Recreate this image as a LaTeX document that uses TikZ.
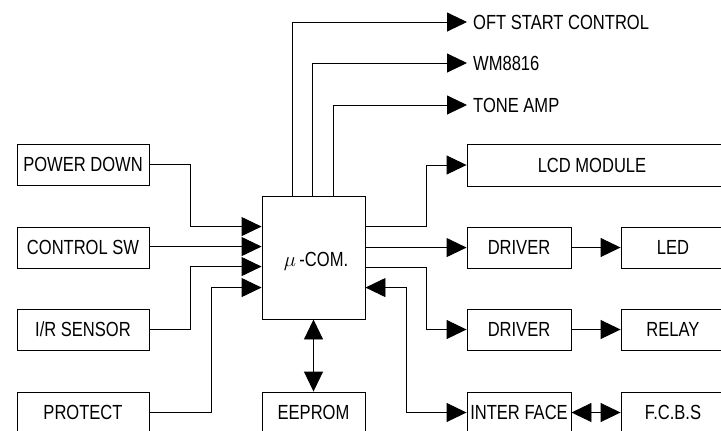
\documentclass[tikz,border=0pt]{standalone}
\usepackage{fontspec}
\setmainfont{Liberation Sans}[FakeStretch=0.81]
\usetikzlibrary{arrows.meta,calc}
\tikzset{
  box/.style={draw, line width=0.9bp, inner sep=0pt, minimum height=41bp},
  lbl/.style={inner sep=0pt, inner xsep=6bp, anchor=west},
  wire/.style={line width=0.9bp},
  arr/.style={wire, -{Triangle[length=20bp,width=19bp]}},
  arrtwo/.style={wire, {Triangle[length=20bp,width=19bp]}-{Triangle[length=20bp,width=19bp]}},
}
\begin{document}
\begin{tikzpicture}[x=1bp,y=-1bp,font=\fontsize{20.5}{23}\selectfont]
\useasboundingbox (0,0) rectangle (721,430);
\clip (0,0) rectangle (721,430);
% left boxes
\node[box, minimum width=132bp] (pd) at (83,164.5) {POWER DOWN};
\node[box, minimum width=132bp] (csw) at (83,247.5) {CONTROL SW};
\node[box, minimum width=132bp] (ir) at (83,329.5) {I/R SENSOR};
\node[box, minimum width=132bp] (prot) at (83,412.5) {PROTECT};
% centre
\node[box, minimum width=103bp, minimum height=123bp] (mcom) at (313.5,257.5) {};
\node (mcomtxt) at (316,261) {$\mu$\,-COM.};
\node[box, minimum width=103bp] (eeprom) at (313.5,412.5) {EEPROM};
% right boxes
\node[box, minimum width=258bp, minimum height=42bp] (lcd) at (596,165) {};
\node (lcdtxt) at (592,165.5) {LCD MODULE};
\node[box, minimum width=104bp] (drv1) at (519,247.5) {DRIVER};
\node[box, minimum width=104bp] (led) at (673,247.5) {LED};
\node[box, minimum width=104bp] (drv2) at (519,329.5) {DRIVER};
\node[box, minimum width=104bp] (relay) at (673,329.5) {RELAY};
\node[box, minimum width=104bp] (iface) at (519,412.5) {INTER FACE};
\node[box, minimum width=104bp] (fcbs) at (673,412.5) {F.C.B.S};
% top labels
\node[lbl] (oft) at (467,22) {OFT START CONTROL};
\node[lbl] (wm) at (467,63) {WM8816};
\node[lbl] (tone) at (467,105) {TONE AMP};
% inputs
\coordinate (in1) at ($(mcom.north west)+(0,31)$);
\coordinate (in2) at ($(mcom.north west)+(0,51)$);
\coordinate (in3) at ($(mcom.north west)+(0,71)$);
\coordinate (in4) at ($(mcom.north west)+(0,92)$);
\draw[arr] (pd.east) -- ++(41,0) |- (in1);
\draw[arr] (csw.east |- in2) -- (in2);
\draw[arr] (ir.east) -- ++(41,0) |- (in3);
\draw[arr] (prot.east) -- ++(62,0) |- (in4);
% top outputs
\draw[arr] ($(mcom.north west)+(31,0)$) |- (oft.west);
\draw[arr] ($(mcom.north west)+(51,0)$) |- (wm.west);
\draw[arr] ($(mcom.north west)+(72,0)$) |- (tone.west);
% right outputs
\draw[arr] ($(mcom.north east)+(0,31)$) -- ++(61,0) |- (lcd.west);
\draw[arr] ($(mcom.north east)+(0,52)$) -- (drv1.west |- {$(mcom.north east)+(0,52)$});
\draw[arr] ($(mcom.north east)+(0,72)$) -- ++(61,0) |- (drv2.west);
\draw[arrtwo] ($(mcom.north east)+(0,92)$) -- ++(41,0) |- (iface.west);
\draw[arrtwo] (mcom.south) -- (eeprom.north);
\draw[arr] (drv1.east) -- (led.west);
\draw[arr] (drv2.east) -- (relay.west);
\draw[arrtwo] (iface.east) -- (fcbs.west);
\end{tikzpicture}
\end{document}
